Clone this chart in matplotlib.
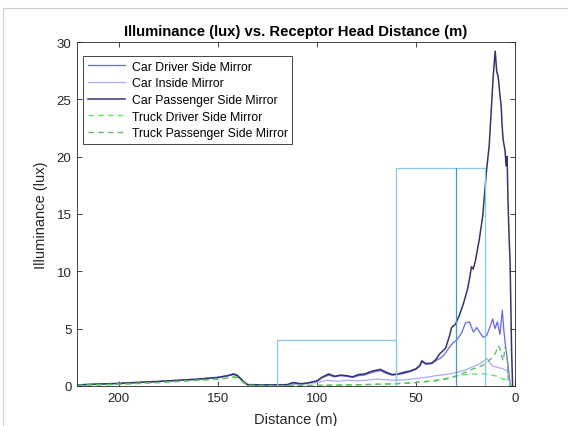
import matplotlib
matplotlib.use("Agg")
import matplotlib.pyplot as plt
from matplotlib.patches import Rectangle

plt.rcParams['font.family'] = ['Liberation Sans', 'DejaVu Sans']

# ---- data ----
car_pass_x = [221, 200, 180, 160, 150, 145, 142, 140, 137, 135, 125, 115, 112, 108, 105, 100, 97, 94, 91, 88,
              85, 82, 79, 76, 72, 68, 65, 62, 59, 56, 53, 50, 48, 47, 45, 42, 40, 38, 35, 33, 32, 30, 28, 26,
              24, 22.7, 22, 21.1, 20, 18, 16.3, 14.3, 13, 12, 11, 10, 9.2, 8.5, 7.5, 7, 6.5, 6, 5, 4.5, 4,
              3.5, 3, 2.5, 2.2, 1.7, 1.2]
car_pass_y = [0.1, 0.23, 0.4, 0.6, 0.75, 0.9, 1.05, 0.9, 0.4, 0.12, 0.1, 0.12, 0.3, 0.2, 0.25, 0.45, 0.8, 1.05, 0.85, 0.95,
              0.9, 0.8, 1.0, 1.05, 1.3, 1.45, 1.2, 1.0, 1.05, 1.2, 1.3, 1.5, 1.8, 2.2, 1.95, 2.0, 2.3, 2.8, 3.3, 4.4, 5.1, 5.4, 6.2, 7.2,
              8.4, 9.6, 10.4, 10.2, 10.9, 12.8, 14.8, 18.9, 21.0, 24.0, 27.0, 29.2, 27.4, 27.0, 25.2, 24.5, 22.7, 21.5, 20.5, 19.2, 20.0,
              16.0, 13.0, 11.0, 8.0, 3.0, 0.0]

car_drv_x = [221, 200, 180, 160, 150, 145, 142, 140, 137, 135, 125, 115, 112, 108, 105, 100, 97, 94, 91, 88,
             85, 82, 79, 76, 72, 68, 65, 62, 59, 56, 53, 50, 48, 47, 45, 42, 40, 37, 35, 33, 31, 29.5, 27, 25,
             23, 21, 19.3, 17.5, 16, 14.3, 12.5, 11.3, 10.1, 8.9, 7.6, 6.4, 5.6, 5.0, 4.0, 3.0, 2.5, 2.0]
car_drv_y = [0.1, 0.22, 0.38, 0.58, 0.72, 0.88, 1.0, 0.85, 0.38, 0.1, 0.08, 0.1, 0.25, 0.18, 0.22, 0.4, 0.75, 0.95, 0.8, 0.9,
             0.85, 0.75, 0.9, 0.95, 1.2, 1.35, 1.1, 0.95, 1.0, 1.1, 1.25, 1.45, 1.75, 2.1, 1.9, 1.95, 2.2, 2.5, 2.9, 3.4, 3.8, 4.0, 4.6, 5.5,
             5.6, 4.7, 5.1, 4.6, 4.25, 4.4, 5.2, 5.85, 5.0, 5.6, 4.5, 6.6, 4.8, 3.8, 2.5, 1.0, 0.3, 0.0]

car_in_x = [221, 200, 180, 160, 150, 145, 142, 140, 137, 135, 125, 115, 110, 105, 100, 95, 90, 85, 80, 75,
            70, 65, 60, 55, 50, 45, 40, 35, 30, 25, 21, 17, 15, 14, 13, 12, 11, 10, 8.4, 6, 5, 4, 3, 2.5, 2]
car_in_y = [0.1, 0.22, 0.4, 0.6, 0.75, 0.9, 1.08, 0.95, 0.4, 0.1, 0.08, 0.1, 0.15, 0.2, 0.3, 0.5, 0.4, 0.5, 0.45, 0.5,
            0.6, 0.55, 0.5, 0.55, 0.65, 0.75, 0.9, 1.0, 1.15, 1.4, 1.7, 2.0, 2.3, 2.4, 2.1, 1.9, 1.7, 1.7, 1.6, 1.5, 1.4, 1.3, 0.6, 0.2, 0.0]

truck_drv_x = [221, 200, 180, 160, 150, 145, 142, 140, 137, 135, 120, 100, 80, 60, 50, 40, 35, 30, 25, 20,
               15, 12, 9.2, 8, 6, 5, 4, 3, 2]
truck_drv_y = [0.05, 0.15, 0.3, 0.5, 0.6, 0.68, 0.75, 0.7, 0.3, 0.05, 0.03, 0.05, 0.1, 0.2, 0.3, 0.5, 0.65, 0.85, 1.0, 1.05,
               1.05, 0.95, 0.87, 0.75, 0.6, 0.55, 0.45, 0.3, 0.0]

truck_pass_x = [221, 200, 180, 160, 150, 145, 142, 140, 137, 135, 120, 100, 80, 60, 50, 40, 32.8, 27, 21, 17,
                15.1, 12, 10, 8.4, 7.6, 6.7, 5.9, 5, 4.2, 3.4, 3, 2.5]
truck_pass_y = [0.05, 0.15, 0.3, 0.5, 0.6, 0.7, 0.8, 0.75, 0.3, 0.05, 0.03, 0.05, 0.1, 0.2, 0.3, 0.45, 0.67, 1.05, 1.5, 1.75,
                1.9, 2.4, 2.8, 3.5, 3.3, 2.6, 2.2, 3.4, 3.0, 0.6, 0.2, 0.0]

box1_x = [120, 120, 60, 60]
box1_y = [0, 4, 4, 0]
box2_x = [60, 60, 15, 15]
box2_y = [0, 19, 19, 0]
mid_x = [30, 30]
mid_y = [0, 19]

labels = ['Car Driver Side Mirror', 'Car Inside Mirror', 'Car Passenger Side Mirror',
          'Truck Driver Side Mirror', 'Truck Passenger Side Mirror']

# ---- figure ----
fig = plt.figure(figsize=(5.68, 4.27), dpi=100)
ax = fig.add_axes([77/568, 1-387/427, (515-77)/568, (387-43)/427])

ax.plot(car_drv_x, car_drv_y, color='#6464ff', lw=0.9, label=labels[0])
ax.plot(car_in_x, car_in_y, color='#aaaaff', lw=0.9, label=labels[1])
ax.plot(car_pass_x, car_pass_y, color='#34346e', lw=1.1, label=labels[2])
ax.plot(truck_drv_x, truck_drv_y, color='#55ee55', lw=1.0, ls=(0, (4, 3)), label=labels[3])
ax.plot(truck_pass_x, truck_pass_y, color='#66bb66', lw=1.0, ls=(0, (4, 3)), label=labels[4])

ax.plot(box1_x, box1_y, color='#86c8ee', lw=0.9)
ax.plot(box2_x, box2_y, color='#86c8ee', lw=0.9)
ax.plot(mid_x, mid_y, color='#3a9ad9', lw=0.9)

ax.set_xlim(221, 0)
ax.set_ylim(0, 30)
ax.set_xticks([200, 150, 100, 50, 0])
ax.set_yticks([0, 5, 10, 15, 20, 25, 30])
ax.tick_params(direction='in', top=True, right=True, length=3.5, width=0.6,
               labelsize=9.5, labelcolor='#262626', color='#262626', pad=4)
for s in ax.spines.values():
    s.set_linewidth(0.6)
    s.set_color('#262626')

ax.set_title('Illuminance (lux) vs. Receptor Head Distance (m)', fontsize=10.7, fontweight='bold', pad=5)
ax.set_xlabel('Distance (m)', fontsize=10.5, color='#262626', labelpad=6)
ax.set_ylabel('Illuminance (lux)', fontsize=10.5, color='#262626', labelpad=6)

leg = ax.legend(loc='upper left', bbox_to_anchor=(0.013, 0.96), fontsize=8.8, frameon=True,
                fancybox=False, framealpha=1, edgecolor='#262626', handlelength=3.1,
                handletextpad=0.5, labelspacing=0.38, borderpad=0.4, borderaxespad=0)
leg.get_frame().set_linewidth(0.6)

fig.add_artist(Rectangle((3/568, -0.1), 1.2, (427-9)/427 + 0.1, transform=fig.transFigure,
                         fill=False, ec='#cfcfcf', lw=0.8))

fig.savefig('out.png', dpi=100)
